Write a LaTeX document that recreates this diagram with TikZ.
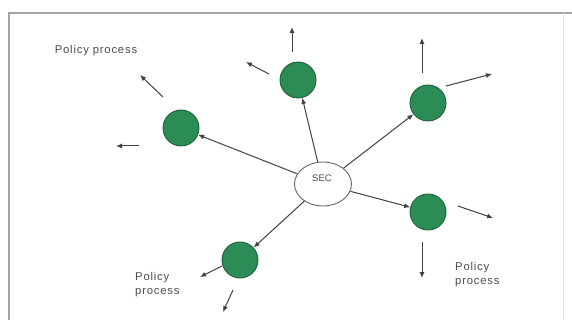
\documentclass[tikz,border=0pt]{standalone}
\usepackage{fontspec}
\setmainfont{Liberation Sans}
\newfontfamily\lblfont[LetterSpace=7]{Liberation Sans}
\usetikzlibrary{arrows.meta,shapes.geometric}
\definecolor{nodegreen}{RGB}{44,140,86}
\definecolor{nodeedge}{RGB}{30,95,58}
\definecolor{linegray}{RGB}{65,65,65}
\definecolor{textgray}{RGB}{75,75,75}
\definecolor{framegray}{RGB}{165,165,165}
\begin{document}
\begin{tikzpicture}[x=1pt,y=-1pt,
  proc/.style={circle,fill=nodegreen,draw=nodeedge,line width=0.9pt,minimum size=36pt,inner sep=0pt},
  secnode/.style={ellipse,draw=linegray!80,line width=0.9pt,fill=white,minimum width=57pt,minimum height=44pt,inner sep=0pt},
  link/.style={draw=linegray,line width=1pt,-{Latex[length=6pt,width=5pt]}},
  lbl/.style={text=textgray,font=\lblfont\fontsize{11.3}{14.5}\selectfont,align=left,inner sep=0pt}
]
\useasboundingbox (0,0) rectangle (572,320);
% frame
\draw[framegray, line width=1.5pt] (9,320) -- (9,13) -- (572,13);
\draw[black!10, line width=1pt] (563,13) -- (563,320);

% nodes
\node[secnode] (sec) at (323,184) {};
\node[text=textgray,font=\fontsize{9.5}{10}\selectfont,inner sep=0pt] (seclbl) at (322,178) {SEC};
\node[proc] (pa) at (181,128) {};
\node[proc] (pb) at (298,80) {};
\node[proc] (pc) at (428,103) {};
\node[proc] (pd) at (428,212) {};
\node[proc] (pe) at (240,260) {};

% links from SEC
\draw[link] (sec) -- (pa);
\draw[link] (sec) -- (pb);
\draw[link] (sec) -- (pc);
\draw[link] (sec) -- (pd);
\draw[link] (sec) -- (pe);

% outer arrow ends
\coordinate (a1s) at (163,97);  \coordinate (a1e) at (140,75);
\coordinate (a2s) at (139,146); \coordinate (a2e) at (116,146);
\coordinate (b1s) at (292,52);  \coordinate (b1e) at (292,27);
\coordinate (b2s) at (269,74);  \coordinate (b2e) at (246,62);
\coordinate (c1s) at (422,73);  \coordinate (c1e) at (422,38);
\coordinate (c2s) at (446,86);  \coordinate (c2e) at (492,74);
\coordinate (d1s) at (458,206); \coordinate (d1e) at (493,218);
\coordinate (d2s) at (422,242); \coordinate (d2e) at (422,278);
\coordinate (e1s) at (222,266); \coordinate (e1e) at (200,277);
\coordinate (e2s) at (233,290); \coordinate (e2e) at (223,312);

\foreach \s/\e in {a1s/a1e,a2s/a2e,b1s/b1e,b2s/b2e,c1s/c1e,c2s/c2e,d1s/d1e,d2s/d2e,e1s/e1e,e2s/e2e}
  \draw[link] (\s) -- (\e);

% labels
\node[lbl] (t1) at (96,51) {Policy process};
\node[lbl,anchor=north west] (t2) at (135,272) {Policy\\process};
\node[lbl,anchor=north west] (t3) at (455,262) {Policy\\process};
\end{tikzpicture}
\end{document}
